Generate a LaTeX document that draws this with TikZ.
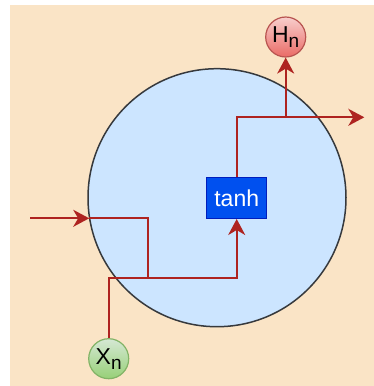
\documentclass[tikz,border=0pt]{standalone}
\usepackage{fontspec}
\setmainfont{Liberation Sans}
\usetikzlibrary{arrows.meta,calc}
\definecolor{bgpeach}{HTML}{FAE4C6}
\definecolor{cellfill}{HTML}{CCE5FF}
\definecolor{cellline}{HTML}{36393D}
\definecolor{wire}{HTML}{AE2320}
\definecolor{tanhfill}{HTML}{0050EF}
\definecolor{tanhline}{HTML}{001DBC}
\definecolor{hline}{HTML}{B85450}
\definecolor{htop}{HTML}{F8CECC}
\definecolor{hbot}{HTML}{EA6B66}
\definecolor{xline}{HTML}{82B366}
\definecolor{xtop}{HTML}{D5E8D4}
\definecolor{xbot}{HTML}{97D077}
\tikzset{
  wireline/.style={draw=wire, line width=2pt},
  wirearrow/.style={wireline, -{Stealth[length=16pt,width=17pt,inset=5pt]}},
  ionode/.style={circle, minimum size=40pt, inner sep=0pt, line width=1.2pt, font=\fontsize{23}{23}\selectfont},
}
\begin{document}
\begin{tikzpicture}[x=1pt,y=-1pt]
\useasboundingbox (0,0) rectangle (374,386);
\fill[bgpeach] (10,5) rectangle (374,386);
\node[circle, draw=cellline, fill=cellfill, line width=1.5pt, minimum size=258pt, inner sep=0pt] (cell) at (217,197.7) {};
\node[draw=tanhline, fill=tanhfill, line width=1pt, minimum width=60pt, minimum height=41pt, inner sep=0pt, text=white, font=\fontsize{23}{23}\selectfont] (tanh) at (236.7,198) {tanh};
\node[ionode, draw=hline, top color=htop, bottom color=hbot] (hn) at (285.7,37) {H\raisebox{-5pt}{\fontsize{19}{19}\selectfont n}};
\node[ionode, draw=xline, top color=xtop, bottom color=xbot] (xn) at (108.7,358.7) {X\raisebox{-5pt}{\fontsize{19}{19}\selectfont n}};
\coordinate (inL) at (30,218.3);
\coordinate (inC) at (89.2,218.3);
\coordinate (jH) at (148.3,277.7);
\coordinate (outJ) at (285.7,117.3);
\coordinate (outR) at (364.3,117.3);
% previous state input
\draw[wirearrow] (inL) -- (inC);
\draw[wireline] (inC) -| (jH);
% x input to tanh
\draw[wirearrow] (xn.north) |- (tanh.south |- jH) -- (tanh.south);
% tanh output
\draw[wirearrow] (tanh.north) |- (outR);
\draw[wirearrow] (outJ) -- (hn.south);
\end{tikzpicture}
\end{document}
